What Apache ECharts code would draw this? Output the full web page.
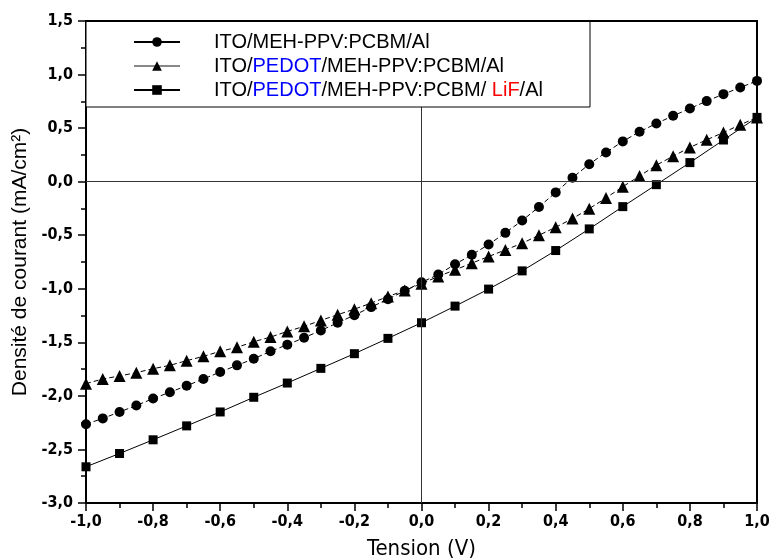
<!DOCTYPE html>
<html>
<head>
<meta charset="utf-8">
<script src="https://cdn.jsdelivr.net/npm/echarts@6/dist/echarts.min.js"></script>
<style>
  html, body { margin: 0; padding: 0; background: #fff; }
  #chart { width: 772px; height: 559px; }
</style>
</head>
<body>
<div id="chart"></div>
<script>
let chart = echarts.init(document.getElementById('chart'));

// tension (V)
let tension05 = [-1.0, -0.95, -0.9, -0.85, -0.8, -0.75, -0.7, -0.65, -0.6, -0.55, -0.5, -0.45, -0.4, -0.35, -0.3, -0.25, -0.2, -0.15, -0.1, -0.05,
    0.0, 0.05, 0.1, 0.15, 0.2, 0.25, 0.3, 0.35, 0.4, 0.45, 0.5, 0.55, 0.6, 0.65, 0.7, 0.75, 0.8, 0.85, 0.9, 0.95, 1.0];
let tension10 = [-1.0, -0.9, -0.8, -0.7, -0.6, -0.5, -0.4, -0.3, -0.2, -0.1, 0.0, 0.1, 0.2, 0.3, 0.4, 0.5, 0.6, 0.7, 0.8, 0.9, 1.0];

// densité de courant (mA/cm2)
let itoAl = [-2.265, -2.21, -2.15, -2.09, -2.025, -1.966, -1.905, -1.842, -1.777, -1.715, -1.653, -1.584, -1.522, -1.457, -1.389, -1.318, -1.246, -1.171, -1.097, -1.019,
    -0.94, -0.867, -0.771, -0.683, -0.587, -0.478, -0.363, -0.236, -0.1, 0.037, 0.163, 0.273, 0.376, 0.466, 0.543, 0.615, 0.683, 0.752, 0.817, 0.879, 0.941];
let pedotAl = [-1.886, -1.842, -1.814, -1.783, -1.746, -1.715, -1.671, -1.631, -1.584, -1.547, -1.494, -1.451, -1.398, -1.351, -1.295, -1.242, -1.19, -1.134, -1.072, -1.016,
    -0.952, -0.885, -0.823, -0.761, -0.699, -0.637, -0.575, -0.5, -0.426, -0.345, -0.252, -0.152, -0.047, 0.053, 0.154, 0.238, 0.32, 0.391, 0.459, 0.531, 0.6];
let pedotLiF = [-2.662, -2.538, -2.41, -2.28, -2.15, -2.013, -1.88, -1.743, -1.606, -1.463, -1.317, -1.162, -1.003, -0.833, -0.643, -0.441, -0.233, -0.028, 0.178, 0.389, 0.6];

let names = ['ITO/MEH-PPV:PCBM/Al', 'ITO/PEDOT/MEH-PPV:PCBM/Al', 'ITO/PEDOT/MEH-PPV:PCBM/ LiF/Al'];

function pairs(xs, ys) {
    return xs.map(function (x, i) { return [x, ys[i]]; });
}
function comma(v) {
    return v.toFixed(1).replace('.', ',');
}

let narrow = "'Liberation Sans Narrow', 'DejaVu Sans Condensed', Arial, sans-serif";
let sans = "'Liberation Sans', Arial, sans-serif";

let option = {
    animation: false,
    backgroundColor: '#fff',
    grid: {
        left: 86, right: 15, top: 21, bottom: 56,
        outerBoundsMode: 'none',
        containLabel: false,
        show: true,
        borderColor: '#000',
        borderWidth: 2
    },
    graphic: [{
        type: 'rect',
        z: 8,
        shape: { x: 86, y: 21, width: 504, height: 86 },
        style: { fill: '#fff', stroke: '#000', lineWidth: 1 }
    }, {
        type: 'line',
        z: 9,
        shape: { x1: 86, y1: 21, x2: 590, y2: 21 },
        style: { stroke: '#000', lineWidth: 2 }
    }],
    legend: {
        z: 10,
        orient: 'vertical',
        left: 133,
        top: 30,
        padding: 0,
        itemWidth: 46,
        itemHeight: 12,
        itemGap: 0,
        data: [
            { name: names[0], lineStyle: { type: 'solid', color: '#000' } },
            { name: names[1], lineStyle: { type: 'solid', color: '#888' } },
            { name: names[2], lineStyle: { type: 'solid', color: '#000' } }
        ],
        formatter: function (name) {
            return name.replace('PEDOT', '{b|PEDOT}').replace('LiF', '{r|LiF}');
        },
        textStyle: {
            fontFamily: sans,
            fontSize: 20,
            color: '#000',
            lineHeight: 24,
            padding: [0, 0, 0, 29],
            rich: {
                b: { color: '#0000ff', fontSize: 20, lineHeight: 24, fontFamily: sans },
                r: { color: '#ff0000', fontSize: 20, lineHeight: 24, fontFamily: sans }
            }
        }
    },
    xAxis: {
        type: 'value',
        min: -1, max: 1, interval: 0.2,
        name: 'Tension (V)',
        nameLocation: 'middle',
        nameGap: 35,
        nameTextStyle: { fontFamily: narrow, fontSize: 22, color: '#000' },
        axisLine: { onZero: false, lineStyle: { color: '#000', width: 2 } },
        axisTick: { inside: false, length: 8, lineStyle: { color: '#000', width: 1.5 } },
        minorTick: { show: true, splitNumber: 2, length: 5, lineStyle: { color: '#000', width: 1.5 } },
        splitLine: { show: false },
        axisLabel: {
            margin: 11, color: '#000', fontWeight: 'bold', fontFamily: narrow, fontSize: 16,
            formatter: comma
        }
    },
    yAxis: {
        type: 'value',
        min: -3, max: 1.5, interval: 0.5,
        name: 'Densité de courant (mA/cm²)',
        nameLocation: 'middle',
        nameRotate: 90,
        nameGap: 53,
        nameTextStyle: { fontFamily: sans, fontSize: 21, color: '#000' },
        axisLine: { onZero: false, lineStyle: { color: '#000', width: 2 } },
        axisTick: { inside: false, length: 8, lineStyle: { color: '#000', width: 1.5 } },
        minorTick: { show: true, splitNumber: 2, length: 5, lineStyle: { color: '#000', width: 1.5 } },
        splitLine: { show: false },
        axisLabel: {
            margin: 13, color: '#000', fontWeight: 'bold', fontFamily: narrow, fontSize: 16,
            formatter: comma
        }
    },
    series: [
        {
            name: names[0],
            type: 'line',
            z: 4,
            data: pairs(tension05, itoAl),
            symbol: 'circle',
            symbolSize: 10,
            itemStyle: { color: '#000' },
            lineStyle: { color: '#000', width: 1, type: [5, 3] },
            markLine: {
                silent: true,
                symbol: 'none',
                label: { show: false },
                lineStyle: { color: '#333', width: 1, type: 'solid' },
                data: [{ xAxis: 0 }, { yAxis: 0 }]
            }
        },
        {
            name: names[1],
            type: 'line',
            z: 3,
            data: pairs(tension05, pedotAl),
            symbol: 'triangle',
            symbolSize: 12,
            itemStyle: { color: '#000' },
            lineStyle: { color: '#000', width: 1, type: [5, 3] }
        },
        {
            name: names[2],
            type: 'line',
            z: 3,
            data: pairs(tension10, pedotLiF),
            symbol: 'rect',
            symbolSize: 9,
            itemStyle: { color: '#000' },
            lineStyle: { color: '#000', width: 1 }
        }
    ]
};

chart.setOption(option);
</script>
</body>
</html>
